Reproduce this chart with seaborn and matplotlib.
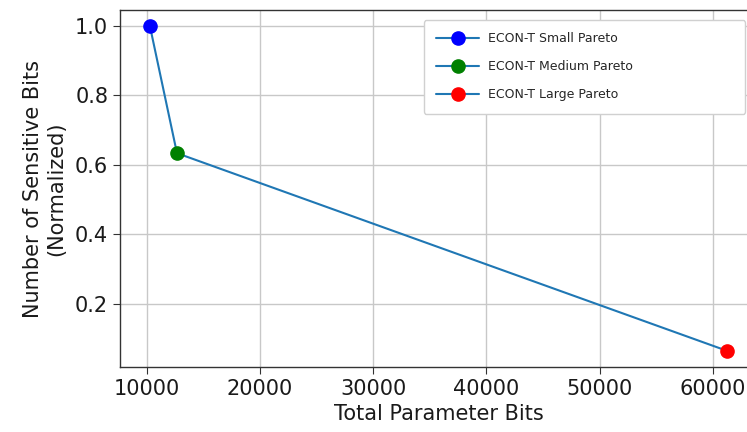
import matplotlib
matplotlib.use("Agg")
import matplotlib.pyplot as plt
from matplotlib.lines import Line2D
import seaborn as sns
import pandas as pd

# Pareto points: total parameter bits vs. normalized count of sensitive bits
labels = ["ECON-T Small Pareto", "ECON-T Medium Pareto", "ECON-T Large Pareto"]
param_bits = [10290, 12680, 61270]
sensitive_norm = [1.0, 0.634, 0.065]
point_colors = ["#0000ff", "#008000", "#ff0000"]

df = pd.DataFrame({"bits": param_bits, "sens": sensitive_norm, "label": labels})

sns.set_style("ticks")
plt.rcParams["font.family"] = ["DejaVu Sans"]

W, H = 747, 432
fig = plt.figure(figsize=(W / 100, H / 100), dpi=100)
ax = fig.add_axes([120 / W, 65 / H, 637 / W, 357 / H])

line_color = "#1f77b4"
sns.lineplot(data=df, x="bits", y="sens", color=line_color, linewidth=1.5,
             sort=False, ax=ax, zorder=2)
for (_, row), c in zip(df.iterrows(), point_colors):
    ax.plot([row["bits"]], [row["sens"]], marker="o", linestyle="none",
            markersize=9.5, markerfacecolor=c, markeredgecolor=c, zorder=3)

ax.set_xlim(7650, 63900)
ax.set_ylim(0.0187, 1.046)
ax.set_xticks([10000, 20000, 30000, 40000, 50000, 60000])
ax.set_yticks([0.2, 0.4, 0.6, 0.8, 1.0])
ax.grid(True, color="#c8c8c8", linewidth=1.0)
ax.set_axisbelow(True)
for s in ax.spines.values():
    s.set_color("#333333")
    s.set_linewidth(1.0)
ax.tick_params(axis="both", labelsize=15, length=5, color="#333333",
               labelcolor="#1a1a1a")

ax.set_xlabel("Total Parameter Bits", fontsize=15, color="#1a1a1a", labelpad=4)
ax.set_ylabel("Number of Sensitive Bits\n(Normalized)", fontsize=15,
              color="#1a1a1a", labelpad=6)

handles = [Line2D([0], [0], color=line_color, linewidth=1.5, marker="o",
                  markersize=9.5, markerfacecolor=c, markeredgecolor=c)
           for c in point_colors]
# legend box spanning a fixed region in the upper right
x0, x1 = 424 / W, 745 / W
y_top, y_bot = 1 - 20 / H, 1 - 112 / H
leg = fig.legend(handles, labels, loc="upper left",
                 bbox_to_anchor=(x0, y_bot, x1 - x0, y_top - y_bot),
                 mode="expand", fontsize=9, frameon=True, fancybox=True,
                 handlelength=3.4, handletextpad=0.75,
                 labelspacing=1.19, borderpad=1.0, borderaxespad=0)
leg.get_frame().set_edgecolor("#d0d0d0")
leg.get_frame().set_linewidth(1.0)
leg.get_frame().set_alpha(1.0)
leg.set_zorder(5)

fig.savefig("out.png", dpi=100)
